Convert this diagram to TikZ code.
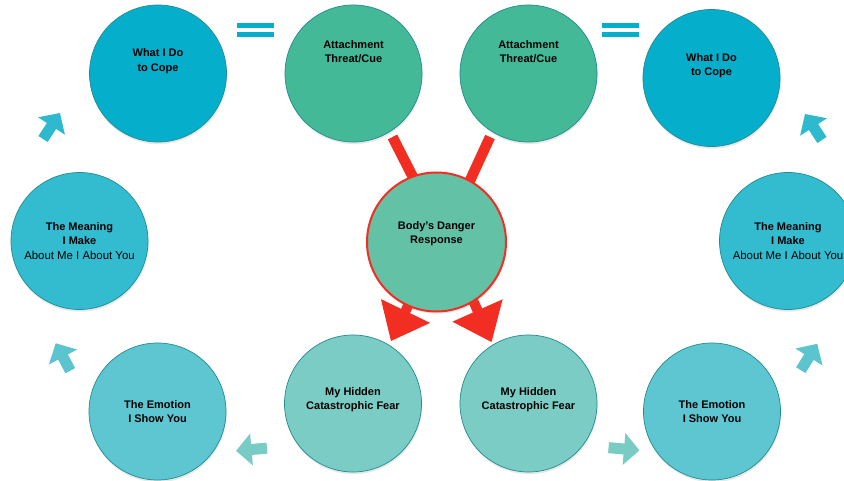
\documentclass[tikz,border=0pt]{standalone}
\usepackage{fontspec}
\setmainfont{Liberation Sans}
\usetikzlibrary{shadows,calc}
\pgfdeclarelayer{bg}
\pgfsetlayers{bg,main}
\definecolor{cope}{HTML}{05AFCB}
\definecolor{attach}{HTML}{43B998}
\definecolor{bodyf}{HTML}{63C1A5}
\definecolor{dred}{HTML}{F22E22}
\definecolor{fear}{HTML}{7BCCC4}
\definecolor{emo}{HTML}{5EC6D1}
\definecolor{mean}{HTML}{33BBCF}
\definecolor{rim}{HTML}{1F8C8F}
\definecolor{arrA}{HTML}{2EB9CF}
\definecolor{arrB}{HTML}{5CC4CF}
\definecolor{arrC}{HTML}{79CCC4}
\tikzset{
  bubble/.style={circle, minimum size=137pt, inner sep=0pt, draw=rim, line width=0.7pt,
    drop shadow={opacity=0.18, shadow xshift=0.6pt, shadow yshift=-2.2pt}},
  txt/.style={align=center, font=\fontsize{11}{14.5}\selectfont\bfseries, text=black, inner sep=0pt},
  redbar/.style={draw=dred, line width=10.5pt},
  redhead/.style={fill=dred},
  eqbar/.style={fill=cope},
}
\newcommand\cyclearrow[3]{%
  \fill[#1, shift={(#2)}, rotate=#3] (-15.5,-5.5) -- (0,-5.5) -- (0,-16) -- (15.5,0) -- (0,16) -- (0,5.5) -- (-15.5,5.5) -- cycle;}
\newcommand\plainline{\mdseries\fontsize{11.4}{14.5}\selectfont}
\begin{document}
\begin{tikzpicture}[x=1pt,y=-1pt]
\useasboundingbox (0,0) rectangle (844,481);

% circles
\node[bubble, fill=cope, label={[txt, yshift=12.5pt]center:{What I Do\\to Cope}}] (copeL) at (158,73.5) {};
\node[bubble, fill=attach, label={[txt, yshift=22pt]center:{Attachment\\Threat/Cue}}] (attL) at (353.5,73.5) {};
\node[bubble, fill=attach, label={[txt, yshift=22pt]center:{Attachment\\Threat/Cue}}] (attR) at (528.5,73.5) {};
\node[bubble, fill=cope, label={[txt, yshift=12.5pt]center:{What I Do\\to Cope}}] (copeR) at (711.5,78) {};
\node[bubble, fill=mean, label={[txt]center:{The Meaning\\I Make\\\plainline About Me I About You}}] (meanL) at (79.5,241) {};
\node[bubble, fill=mean, label={[txt]center:{The Meaning\\I Make\\\plainline About Me I About You}}] (meanR) at (788,241) {};
\node[bubble, fill=bodyf, draw=dred, line width=2pt, minimum size=139pt, label={[txt, yshift=8.5pt]center:{Body’s Danger\\Response}}] (body) at (436.5,242) {};
\node[bubble, fill=fear, label={[txt, yshift=4pt]center:{My Hidden\\Catastrophic Fear}}] (fearL) at (353,403.5) {};
\node[bubble, fill=fear, label={[txt, yshift=4pt]center:{My Hidden\\Catastrophic Fear}}] (fearR) at (528.5,403.5) {};
\node[bubble, fill=emo, label={[txt]center:{The Emotion\\I Show You}}] (emoL) at (157.5,411.5) {};
\node[bubble, fill=emo, label={[txt]center:{The Emotion\\I Show You}}] (emoR) at (712,411.5) {};

% red connectors (behind the danger circle)
\coordinate (barL) at (392.5,137);
\coordinate (barR) at (490,137);
\coordinate (headL) at (405.5,311);
\coordinate (headR) at (477.5,310.5);
\begin{pgfonlayer}{bg}
  \fill[white] (0,0) rectangle (844,481);
  \draw[redbar] (barL) -- ($(barL)+(25,49)$);
  \draw[redbar] (barR) -- ($(barR)+(-23,50)$);
  \fill[redhead, shift={(headL)}, rotate=244.2] (-60,-5) -- (0,-5) -- (0,-27.3) -- (33.3,0) -- (0,27.3) -- (0,5) -- (-60,5) -- cycle;
  \fill[redhead, shift={(headR)}, rotate=294] (-60,-5) -- (0,-5) -- (0,-27.5) -- (34.5,0) -- (0,27.5) -- (0,5) -- (-60,5) -- cycle;
\end{pgfonlayer}

% equals signs
\fill[eqbar] (237,23) rectangle (274,28);
\fill[eqbar] (237,32) rectangle (274,37);
\fill[eqbar] (602,23) rectangle (639,28);
\fill[eqbar] (602,32) rectangle (639,37);

% cycle arrows
\cyclearrow{arrA}{51.5,126}{57}
\cyclearrow{arrB}{63,357}{118}
\cyclearrow{arrC}{251.5,449.5}{185}
\cyclearrow{arrC}{624,449}{-5}
\cyclearrow{arrB}{809,357}{58}
\cyclearrow{arrA}{813.5,127}{123}
\end{tikzpicture}
\end{document}
